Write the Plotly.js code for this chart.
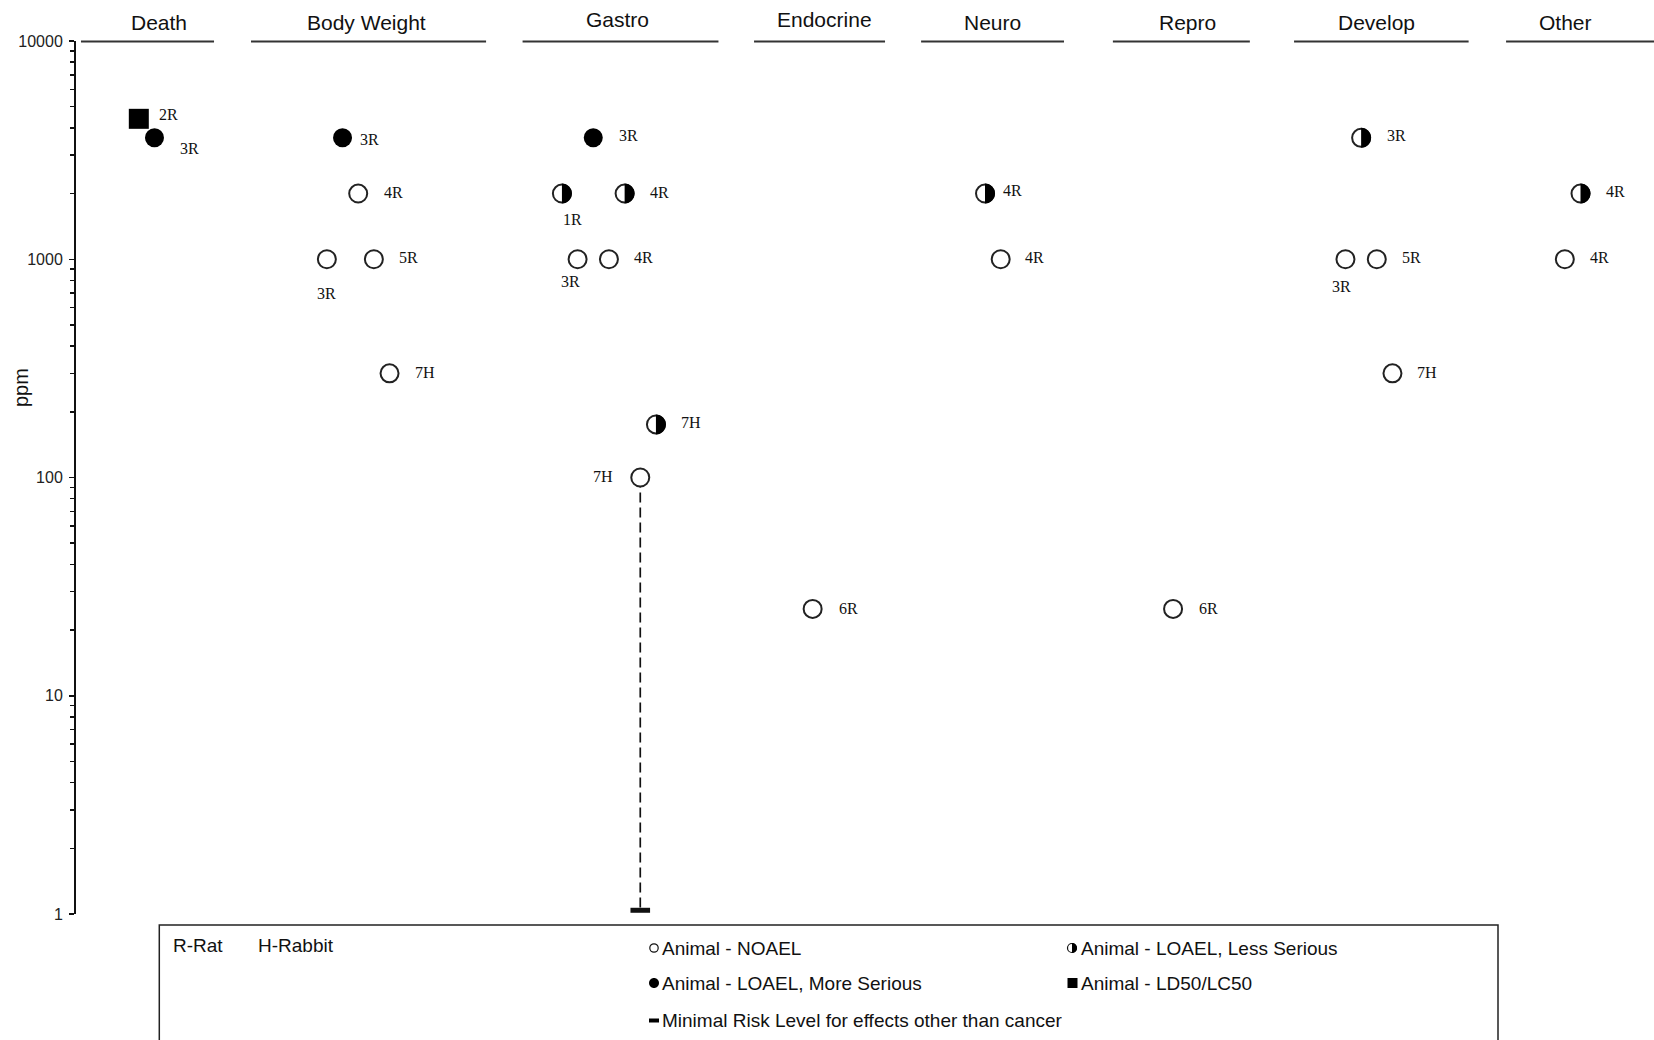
<!DOCTYPE html>
<html><head><meta charset="utf-8">
<script src="https://cdn.plot.ly/plotly-3.0.1.min.js"></script>
<style>html,body{margin:0;padding:0;background:#fff;overflow:hidden}#chart{width:1654px;height:1040px}</style>
</head><body><div id="chart"></div>
<script>
// ================= DATA =================
const categories = ['Death', 'Body Weight', 'Gastro', 'Endocrine', 'Neuro', 'Repro', 'Develop', 'Other'];

// one entry per plotted study point
const pointCategory = ['Death', 'Death',
  'Body Weight', 'Body Weight', 'Body Weight', 'Body Weight', 'Body Weight',
  'Gastro', 'Gastro', 'Gastro', 'Gastro', 'Gastro', 'Gastro', 'Gastro',
  'Endocrine', 'Neuro', 'Neuro', 'Repro',
  'Develop', 'Develop', 'Develop', 'Develop',
  'Other', 'Other'];
const studyColumn = [1, 2, 13, 14, 15, 16, 17, 28, 29, 30, 31, 32, 33, 34, 44, 55, 56, 67, 78, 79, 80, 81, 92, 93];
const ppm = [4400, 3600, 1000, 3600, 2000, 1000, 300, 2000, 1000, 3600, 1000, 2000, 100, 175, 25, 2000, 1000, 25, 1000, 3600, 1000, 300, 1000, 2000];
const studyKey = ['2R', '3R', '3R', '3R', '4R', '5R', '7H', '1R', '3R', '3R', '4R', '4R', '7H', '7H', '6R', '4R', '4R', '6R', '3R', '3R', '5R', '7H', '4R', '4R'];
const effectType = ['LD50', 'LOAEL_MS', 'NOAEL', 'LOAEL_MS', 'NOAEL', 'NOAEL', 'NOAEL',
  'LOAEL_LS', 'NOAEL', 'LOAEL_MS', 'NOAEL', 'LOAEL_LS', 'NOAEL', 'LOAEL_LS',
  'NOAEL', 'LOAEL_LS', 'NOAEL', 'NOAEL', 'NOAEL', 'LOAEL_LS', 'NOAEL', 'NOAEL', 'NOAEL', 'LOAEL_LS'];

// Minimal Risk Level
const mrlValue = [1.04];
const mrlColumn = [33];
const mrlBasisValue = [100];

// axis ticks
const yTickValues = [1, 10, 100, 1000, 10000];
const yTickLabels = ['1', '10', '100', '1000', '10000'];

// key texts
const speciesKey = ['R-Rat', 'H-Rabbit'];
const legendNoael = 'Animal - NOAEL';
const legendLoaelMore = 'Animal - LOAEL, More Serious';
const legendMrl = 'Minimal Risk Level for effects other than cancer';
const legendLoaelLess = 'Animal - LOAEL, Less Serious';
const legendLd50 = 'Animal - LD50/LC50';
const yTitle = 'ppm';

// ================= LAYOUT / STYLE =================
const W = 1654, H = 1040, ML = 76, MT = 41, MB = 126, MR = 0;
const PW = W - ML - MR, PH = H - MT - MB;
const xRange = [-3.008, 97.69];
const px2x = px => (px - ML) / PW;           // pixel -> paper x
const py2y = py => (H - MB - py) / PH;       // pixel -> paper y

// header band for each category: [start col, end col, label col, label pixel y]
const headerSpan = [[-2.69, 5.80, 2.28, 22], [8.16, 23.16, 15.5, 22], [25.49, 37.99, 31.55, 19],
  [40.26, 48.62, 44.76, 19], [50.92, 60.04, 55.48, 22.5], [63.16, 71.9, 67.89, 22.5],
  [74.72, 85.86, 79.95, 22.5], [88.25, 97.69, 92.07, 22.5]];

// label offsets (pixels, label centre relative to marker centre, +dy = down)
const labelDX = [30, 35, 0, 26.5, 35, 35, 35, 11, -7.5, 35, 34.5, 35, -37, 35, 36, 27, 34, 35, -4, 35, 35, 35, 35, 35];
const labelDY = [-4, 10.5, 34, 1.5, -1, -2, -1, 26, 22, -2, -2, -1, -1, -2, 0, -3, -2, 0, 27, -2, -2, -1, -2, -2];

const INK = '#111';
const SANS = 'Liberation Sans, Arial, sans-serif';
const SERIF = 'Liberation Serif, Times New Roman, serif';

function pick(type) {
  const idx = effectType.map((t, i) => t === type ? i : -1).filter(i => i >= 0);
  return {x: idx.map(i => studyColumn[i]), y: idx.map(i => ppm[i]), t: idx.map(i => studyKey[i] + ' ' + pointCategory[i])};
}

const traces = [];
// dashed connector from the basis NOAEL down to the MRL
traces.push({type: 'scatter', mode: 'lines', x: [mrlColumn[0], mrlColumn[0]], y: [mrlBasisValue[0], mrlValue[0]],
  line: {color: INK, width: 1.7, dash: '10px,5px'}, hoverinfo: 'skip', showlegend: false, cliponaxis: false});
traces.push({type: 'scatter', mode: 'markers', x: mrlColumn, y: mrlValue, name: 'MRL',
  marker: {symbol: 'line-ew', size: 14, line: {color: INK, width: 5}}, showlegend: false, cliponaxis: false});

const noael = pick('NOAEL'), less = pick('LOAEL_LS'), more = pick('LOAEL_MS'), ld = pick('LD50');
traces.push({type: 'scatter', mode: 'markers', x: noael.x, y: noael.y, text: noael.t, name: 'NOAEL',
  marker: {symbol: 'circle', size: 18, color: '#fff', line: {color: '#222', width: 2}}, showlegend: false, cliponaxis: false});
traces.push({type: 'scatter', mode: 'markers', x: less.x, y: less.y, text: less.t, name: 'LOAEL less serious',
  marker: {symbol: 'circle', size: 18, color: '#fff', line: {color: '#222', width: 2}}, showlegend: false, cliponaxis: false});
traces.push({type: 'scatter', mode: 'markers', x: more.x, y: more.y, text: more.t, name: 'LOAEL more serious',
  marker: {symbol: 'circle', size: 19, color: '#000', line: {width: 0}}, showlegend: false, cliponaxis: false});
traces.push({type: 'scatter', mode: 'markers', x: ld.x, y: ld.y, text: ld.t, name: 'LD50/LC50',
  marker: {symbol: 'square', size: 20, color: '#000', line: {width: 0}}, showlegend: false, cliponaxis: false});

const k = 0.5523;
function rightHalf(r) {
  const c = (k * r).toFixed(2);
  return `M0,${r} C${c},${r} ${r},${c} ${r},0 C${r},-${c} ${c},-${r} 0,-${r} Z`;
}

const shapes = [];
// half-black overlay on "less serious" circles
less.x.forEach((xv, i) => {
  shapes.push({type: 'path', xref: 'x', yref: 'y', xsizemode: 'pixel', ysizemode: 'pixel',
    xanchor: xv, yanchor: less.y[i], path: rightHalf(10), fillcolor: '#000', line: {width: 0}, layer: 'above'});
});
// header rules
headerSpan.forEach(h => {
  shapes.push({type: 'line', xref: 'x', yref: 'paper', x0: h[0], x1: h[1], y0: 1 - 0.5 / PH, y1: 1 - 0.5 / PH,
    line: {color: '#333', width: 2}});
});
// key box
shapes.push({type: 'rect', xref: 'paper', yref: 'paper', x0: px2x(159.3), x1: px2x(1498), y0: py2y(925), y1: py2y(1080),
  line: {color: '#222', width: 1.5}, fillcolor: 'rgba(0,0,0,0)'});
// key symbols
function keyShape(cx, cy, path, fill, lineW) {
  return {type: 'path', xref: 'paper', yref: 'paper', xsizemode: 'pixel', ysizemode: 'pixel',
    xanchor: px2x(cx), yanchor: py2y(cy), path: path, fillcolor: fill, line: {color: '#111', width: lineW}};
}
function circlePath(r) {
  const c = (k * r).toFixed(2);
  return `M0,${r} C${c},${r} ${r},${c} ${r},0 C${r},-${c} ${c},-${r} 0,-${r} C-${c},-${r} -${r},-${c} -${r},0 C-${r},${c} -${c},${r} 0,${r} Z`;
}
shapes.push(keyShape(654, 948, circlePath(4.2), '#fff', 1.2));
shapes.push(keyShape(654, 983, circlePath(5), '#000', 0));
shapes.push(keyShape(654, 1020.5, 'M-5,2 L5,2 L5,-2 L-5,-2 Z', '#000', 0));
shapes.push(keyShape(1072, 948, circlePath(4.5), '#fff', 1.2));
shapes.push(keyShape(1072, 948, rightHalf(5), '#000', 0));
shapes.push(keyShape(1072.5, 983, 'M-5,5 L5,5 L5,-5 L-5,-5 Z', '#000', 0));

const annotations = [];
// category headers
categories.forEach((c, i) => {
  annotations.push({xref: 'x', yref: 'paper', x: headerSpan[i][2], y: py2y(headerSpan[i][3]), text: c,
    showarrow: false, xanchor: 'center', yanchor: 'middle', font: {family: SANS, size: 21, color: INK}});
});
// point labels
ppm.forEach((v, i) => {
  annotations.push({xref: 'x', yref: 'y', x: studyColumn[i], y: Math.log10(v), text: studyKey[i], showarrow: false,
    xanchor: 'center', yanchor: 'middle', xshift: labelDX[i], yshift: -labelDY[i], borderpad: 0,
    font: {family: SERIF, size: 16, color: INK}});
});
// y title
annotations.push({xref: 'paper', yref: 'paper', x: px2x(21), y: py2y(388), text: yTitle, textangle: -90, showarrow: false,
  xanchor: 'center', yanchor: 'middle', font: {family: SANS, size: 20, color: INK}});
// key texts
function keyText(px, py, t) {
  annotations.push({xref: 'paper', yref: 'paper', x: px2x(px), y: py2y(py), text: t, showarrow: false,
    xanchor: 'left', yanchor: 'middle', borderpad: 0, font: {family: SANS, size: 19, color: INK}});
}
keyText(171.5, 945.5, speciesKey[0]);
keyText(257, 945.5, speciesKey[1]);
keyText(661, 948, legendNoael);
keyText(661, 983, legendLoaelMore);
keyText(661, 1020.5, legendMrl);
keyText(1080, 948, legendLoaelLess);
keyText(1080, 983, legendLd50);

const minorVals = [];
for (let d = 0; d < 4; d++) for (let m = 2; m <= 9; m++) minorVals.push(m * Math.pow(10, d));

const layout = {
  width: W, height: H, margin: {l: ML, r: MR, t: MT, b: MB, pad: 0},
  paper_bgcolor: '#fff', plot_bgcolor: '#fff', showlegend: false,
  xaxis: {range: xRange, visible: false, fixedrange: true},
  yaxis: {type: 'log', range: [0, 4], showgrid: false, zeroline: false, showline: true, linecolor: INK, linewidth: 2,
    ticks: 'outside', ticklen: 5, tickwidth: 1.5, tickcolor: INK, tickmode: 'array', tickvals: yTickValues, ticktext: yTickLabels,
    tickfont: {family: SANS, size: 16, color: '#222'}, ticklabelstandoff: 3, fixedrange: true,
    minor: {tickmode: 'array', tickvals: minorVals, ticks: 'outside', ticklen: 4, tickwidth: 1.5, tickcolor: INK, showgrid: false}},
  shapes: shapes, annotations: annotations, hovermode: false
};

Plotly.newPlot('chart', traces, layout, {displayModeBar: false, staticPlot: true});
</script></body></html>
